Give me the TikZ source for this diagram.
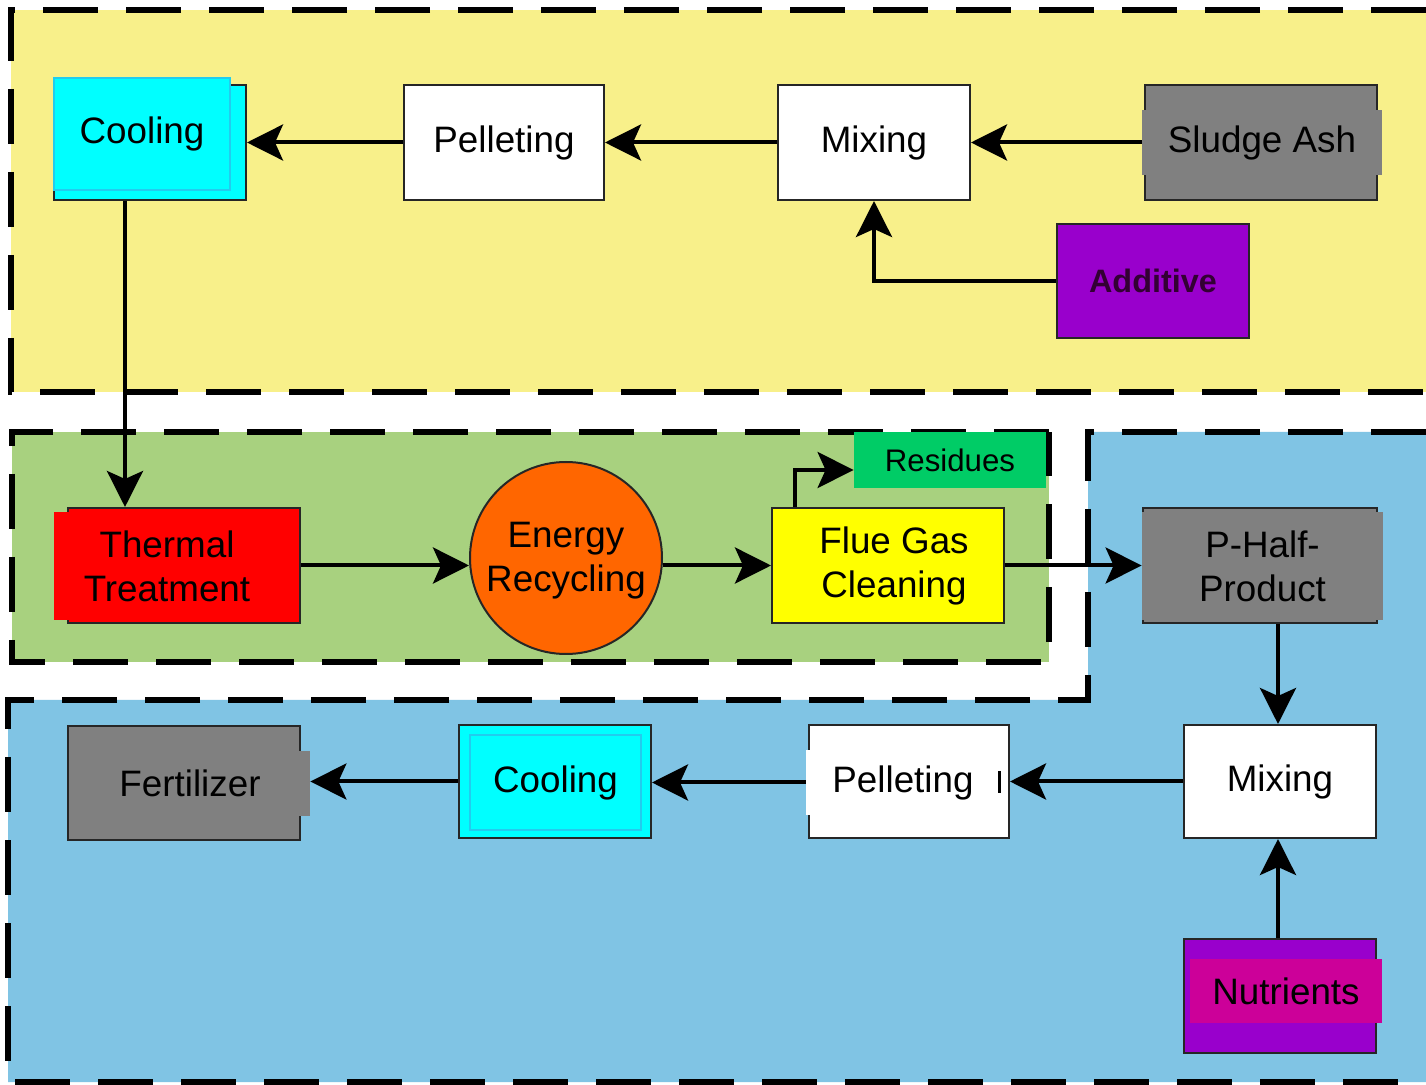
\documentclass[tikz,border=0pt]{standalone}
\usepackage{fontspec}
\setmainfont{Liberation Sans}
\usetikzlibrary{arrows.meta}
\definecolor{ybg}{HTML}{F8F08A}
\definecolor{gbg}{HTML}{A8D17F}
\definecolor{bbg}{HTML}{80C4E4}
\definecolor{cy}{HTML}{00FFFF}
\definecolor{cyline}{HTML}{22CCEE}
\definecolor{gry}{HTML}{808080}
\definecolor{purp}{HTML}{9900CC}
\definecolor{mag}{HTML}{CC0099}
\definecolor{redf}{HTML}{FF0000}
\definecolor{orf}{HTML}{FF6600}
\definecolor{yelf}{HTML}{FFFF00}
\definecolor{resg}{HTML}{00CC66}
\definecolor{addtxt}{HTML}{330033}
\newcommand\bigf{\fontsize{18.4}{22}\selectfont}
\newcommand\midf{\fontsize{15.6}{18}\selectfont}
\newcommand\boldf{\fontsize{16.2}{19}\selectfont\bfseries}
\tikzset{
  box/.style={draw=black!85, line width=1pt, inner sep=0pt, align=center, font=\bigf},
  patch/.style={inner sep=0pt, align=center, font=\bigf},
  arr/.style={line width=2pt, -{Stealth[length=18pt,width=18pt,inset=4pt]}},
  region/.style={line width=3pt, dash pattern=on 27.5pt off 14pt},
}
\begin{document}
\begin{tikzpicture}[x=0.5pt,y=-0.5pt]
\useasboundingbox (0,0) rectangle (1426,1085);
\fill[white] (0,0) rectangle (1426,1085);
% regions
\fill[ybg] (11,10) rectangle (1426,392);
\draw[region] (1426,10) -- (11,10) -- (11,392) -- (1426,392);
\fill[gbg] (12,432) rectangle (1049,662);
\draw[region] (1049,432) -- (12,432) -- (12,662) -- (1049,662) -- cycle;
\fill[bbg] (1088,432) -- (1426,432) -- (1426,1082) -- (8,1082) -- (8,700) -- (1088,700) -- cycle;
\draw[region] (1426,432) -- (1088,432) -- (1088,700) -- (8,700) -- (8,1082) -- (1426,1082);
% top row
\node[box, fill=cy, minimum width=96pt, minimum height=57.5pt] (cool1) at (150,142.5) {};
\node[patch, fill=cy, draw=cyline, line width=0.6pt, minimum width=88pt, minimum height=56pt] (cool1f) at (142,134) {\raisebox{-1.5pt}{Cooling}};
\node[box, fill=white, minimum width=100pt, minimum height=57.5pt] (pel1) at (504,142.5) {\raisebox{-1.5pt}{Pelleting}};
\node[box, fill=white, minimum width=96pt, minimum height=57.5pt] (mix1) at (874,142.5) {\raisebox{-1.5pt}{Mixing}};
\node[box, fill=gry, minimum width=116pt, minimum height=57.5pt] (ash) at (1261,142.5) {};
\node[patch, fill=gry, minimum width=120pt, minimum height=32.5pt] (ashp) at (1262,142.5) {Sludge Ash};
\node[box, fill=purp, minimum width=96pt, minimum height=57pt, font=\boldf, text=addtxt] (add) at (1153,281) {Additive};
% middle row
\node[box, fill=redf, minimum width=116pt, minimum height=57.5pt] (thermal) at (184,565.5) {};
\node[patch, fill=redf, minimum width=113pt, minimum height=54pt] (thermalp) at (167,566) {Thermal\\Treatment};
\node[box, circle, fill=orf, minimum size=96pt] (energy) at (566,558) {};
\node[font=\bigf, align=center, inner sep=0pt] at (566,561) {Energy\\Recycling};
\node[box, fill=yelf, minimum width=116pt, minimum height=57.5pt] (flue) at (888,565.5) {\hspace*{6pt}Flue Gas\\\hspace*{6pt}Cleaning};
\node[patch, fill=resg, minimum width=96pt, minimum height=28pt, font=\midf] (res) at (950,460) {Residues};
\node[box, fill=gry, minimum width=117pt, minimum height=57.5pt] (phalf) at (1260,565.5) {};
\node[patch, fill=gry, minimum width=120.5pt, minimum height=54pt] (phalfp) at (1262.5,566) {P-Half-\\Product};
% bottom row
\node[box, fill=gry, minimum width=116pt, minimum height=57pt] (fert) at (184,783) {};
\node[patch, fill=gry, minimum width=120pt, minimum height=32.5pt] (fertp) at (190,783.5) {Fertilizer};
\node[box, fill=cy, minimum width=96pt, minimum height=56.5pt] (cool2) at (555,781.5) {};
\node[patch, fill=cy, draw=cyline, line width=0.6pt, minimum width=85.5pt, minimum height=47.5pt] (cool2p) at (555.5,782.5) {\raisebox{-1.5pt}{Cooling}};
\node[box, fill=white, minimum width=100pt, minimum height=56.5pt] (pel2) at (909,781.5) {};
\node[patch, fill=white, minimum width=97pt, minimum height=32.5pt] (pel2p) at (903,782.5) {\raisebox{-1.5pt}{Pelleting}};
\draw[line width=1.5pt] (999,771) -- (999,793);
\node[box, fill=white, minimum width=96pt, minimum height=56.5pt] (mix2) at (1280,781.5) {\raisebox{-1.5pt}{Mixing}};
\node[box, fill=purp, minimum width=96pt, minimum height=57pt] (nut) at (1280,996) {};
\node[patch, fill=mag, minimum width=96pt, minimum height=32pt] (nutp) at (1286,991) {Nutrients};
% connectors
\draw[arr] (ashp.west) -- (mix1.east);
\draw[arr] (mix1.west) -- (pel1.east);
\draw[arr] (pel1.west) -- (cool1.east);
\draw[arr] (add.west) -| (mix1.south);
\coordinate (cx) at (125,0);
\draw[arr] (cx |- cool1.south) -- (cx |- thermal.north);
\draw[arr] (thermal.east) -- (thermal.east -| energy.west);
\draw[arr] (flue.west -| energy.east) -- (flue.west);
\draw[arr] ([xshift=12pt]flue.north west) |- ([yshift=-5pt]res.west);
\draw[arr] (flue.east) -- (flue.east -| phalfp.west);
\coordinate (mx) at (1278,0);
\draw[arr] (mx |- phalf.south) -- (mx |- mix2.north);
\draw[arr] (mx |- nut.north) -- (mx |- mix2.south);
\draw[arr] (mix2.west) -- (pel2.east);
\draw[arr] (pel2p.west) -- (pel2p.west -| cool2.east);
\draw[arr] (cool2.west) -- (cool2.west -| fertp.east);
\end{tikzpicture}
\end{document}
